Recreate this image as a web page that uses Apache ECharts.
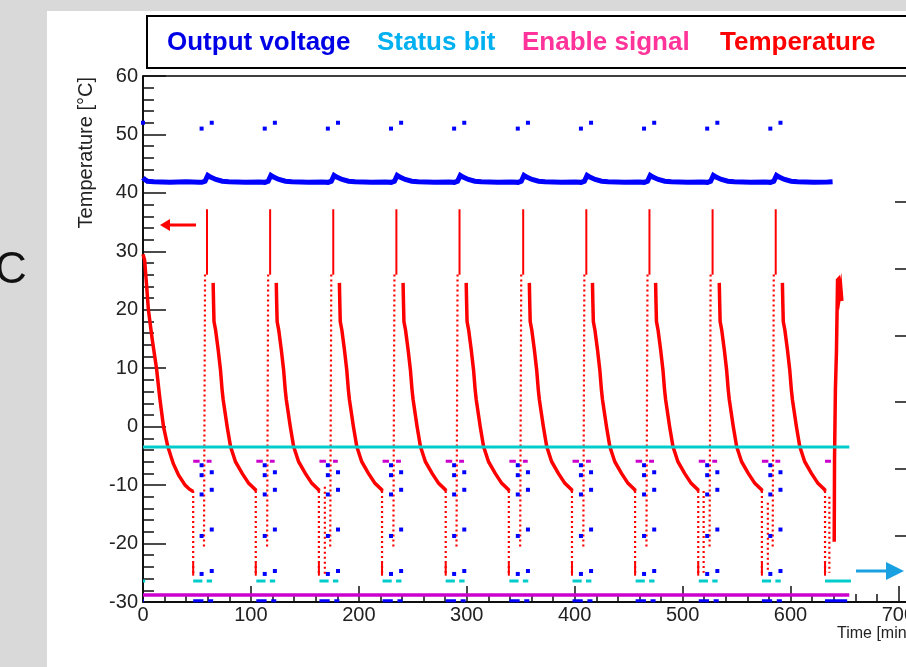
<!DOCTYPE html>
<html>
<head>
<meta charset="utf-8">
<script src="https://cdn.jsdelivr.net/npm/echarts@6/dist/echarts.min.js"></script>
<style>
html, body { margin: 0; padding: 0; background: #d9d9d9; }
#panel { position: absolute; left: 47px; top: 11px; right: 0; bottom: 0; background: #fff; }
#chart { position: absolute; left: 0; top: 0; width: 906px; height: 667px; }
</style>
</head>
<body>
<div id="panel"></div>
<div id="chart"></div>
<script>
// times in minutes, values in the left axis units (°C scale)
const spikes = [59.5, 118, 176.5, 235, 293.5, 352.5, 411, 469.5, 528, 586.5];
const decayStarts = [65, 123.5, 182, 241, 299.5, 358, 416.5, 475, 534, 592.5];
const decayEnds = [46.5, 104.5, 163, 221.5, 280.5, 339, 397.5, 456, 514.5, 573.5, 632];

const firstDecay = [[0, 29.5], [1.5, 28.5], [3, 25], [5, 20], [8.5, 15], [12.5, 10], [15.5, 5],
    [19, 0], [23, -3.4], [28, -6.3], [33, -8.3], [39, -10], [43, -10.7]];
const decayShape = [[0, 24.6], [0.4, 21], [0.8, 18], [2.3, 16.5], [4.7, 13.1], [6.8, 9.7], [8.3, 6.3],
    [9.3, 4.6], [13, 0], [16.1, -3.4], [20.7, -6], [26.9, -8], [33, -9.7], [39.2, -10.8]];
const finalRise = [[640.5, -19.7], [640.8, -5.7], [641.6, 6.3], [642.6, 13], [643.6, 25.1],
    [644.6, 25.3], [645.6, 22.6], [646.6, 23.8], [647.6, 21.5]];
const extraDotted = [[168.5, -10.3, -25.7], [519.5, -11, -25], [579, -13, -25], [636, -12, -25]];

const voltageStart = [[0, 42.6], [1.5, 42.3], [4, 42.0], [10, 41.9], [25, 41.8], [40, 41.9], [52, 41.8]];
// bump around each spike, as [minutes from spike, value]
const voltageBump = [[-5, 41.8], [-2, 42.0], [0.5, 43.0], [3, 42.7], [8, 42.3], [14, 42.0], [20, 41.9], [35, 41.8], [48, 41.85]];
const voltageEnd = [[639, 41.9]];

const highDots = [[-5.2, 51.0], [4.2, 52.0]];
const lowDotsLeft = [-6.6, -8.3, -11.6, -18.7, -25.2];
const lowDotsRight = [-7.8, -10.8, -17.6, -24.7];

const statusLevel = -3.5, statusLow = -26.4;
const enableLevel = -28.8, enableHigh = -5.9;
const voltageLow = -29.8;
const lineEnd = 654.5;
const statusSegs = [[-13, -4.5], [-0.5, 4.5]];
const enableSegs = [[-13, -7], [-0.5, 4]];
const voltSegs = [[-13, -3.5], [0.8, 5.5]];

const rightTicks = [1, 2, 3, 4, 5, 6];

const legendItems = [
    {text: 'Output voltage', color: '#0000e6', x: 167},
    {text: 'Status bit', color: '#00b0f0', x: 377},
    {text: 'Enable signal', color: '#ff3399', x: 522},
    {text: 'Temperature', color: '#ff0000', x: 720},
];

const RED = '#ff0000', BLUE = '#0000ff', CYAN = '#00cccc', MAGENTA = '#cc00cc';
const FONT = 'Liberation Sans, Arial, sans-serif';

function polyLines(name, color, width, type, list, z) {
    return {
        type: 'lines',
        name,
        coordinateSystem: 'cartesian2d',
        polyline: true,
        silent: true,
        z,
        lineStyle: {color, width, type, opacity: 1, curveness: 0},
        data: list.map(c => ({coords: c})),
    };
}

// temperature
const redCurves = [firstDecay.concat([[decayEnds[0], -11.1]])];
decayStarts.forEach((t0, i) => {
    redCurves.push(decayShape.map(([dt, v]) => [t0 + dt, v]).concat([[decayEnds[i + 1], -11]]));
});
redCurves.push(finalRise);
const redDotted = [];
const redThin = [];
decayEnds.forEach(e => {
    redDotted.push([[e, -11], [e, -25.5]]);
    redThin.push([[e, -23.3], [e, -25.5]]);
});
spikes.forEach(s => {
    redDotted.push([[s - 3, -20.5], [s - 2, 26.5]]);
    redThin.push([[s - 0.2, 26], [s - 0.2, 37.2]]);
});
extraDotted.forEach(([t, a, b]) => redDotted.push([[t, a], [t, b]]));

// output voltage
let voltage = voltageStart.slice();
spikes.forEach(s => { voltage = voltage.concat(voltageBump.map(([dt, v]) => [s + dt, v])); });
voltage = voltage.concat(voltageEnd);
const blueDots = [[0, 52]];
const blueBottom = [[[0, voltageLow], [0.8, voltageLow]], [[632, voltageLow], [652.5, voltageLow]]];
spikes.forEach(s => {
    highDots.forEach(([dt, v]) => blueDots.push([s + dt, v]));
    lowDotsLeft.forEach(v => blueDots.push([s - 5.2, v]));
    lowDotsRight.forEach(v => blueDots.push([s + 4.2, v]));
    voltSegs.forEach(([a, b]) => blueBottom.push([[s + a, voltageLow], [s + b, voltageLow]]));
});

// status bit and enable signal
const statusLines = [[[0, statusLevel], [lineEnd, statusLevel]], [[0, statusLow], [2, statusLow]], [[632, statusLow], [656, statusLow]]];
const enableShort = [[[632, enableHigh], [637.5, enableHigh]]];
spikes.forEach(s => {
    statusSegs.forEach(([a, b]) => statusLines.push([[s + a, statusLow], [s + b, statusLow]]));
    enableSegs.forEach(([a, b]) => enableShort.push([[s + a, enableHigh], [s + b, enableHigh]]));
});

const chart = echarts.init(document.getElementById('chart'), null, {renderer: 'canvas'});

const tickStyle = {color: '#111', width: 1.5};
chart.setOption({
    animation: false,
    backgroundColor: 'transparent',
    grid: {
        left: 143, top: 76, width: 777, height: 526,
        containLabel: false, outerBoundsMode: 'none',
        show: true, borderColor: '#000', borderWidth: 1.5, backgroundColor: 'transparent',
    },
    xAxis: {
        type: 'value', min: 0, max: 720, interval: 100,
        axisLine: {show: true, onZero: false, lineStyle: {color: '#000', width: 1.5}},
        axisTick: {show: true, inside: true, length: 16, lineStyle: tickStyle},
        minorTick: {show: true, splitNumber: 5, length: 8, lineStyle: tickStyle},
        splitLine: {show: false},
        axisLabel: {fontSize: 20, color: '#222', margin: 3, fontFamily: FONT,
            formatter: v => (v % 100 === 0 ? String(v) : '')},
    },
    yAxis: [{
        type: 'value', min: -30, max: 60, interval: 10,
        axisLine: {show: true, onZero: false, lineStyle: {color: '#000', width: 1.5}},
        axisTick: {show: true, inside: true, length: 23, lineStyle: tickStyle},
        minorTick: {show: true, splitNumber: 5, length: 11, lineStyle: tickStyle},
        splitLine: {show: false},
        axisLabel: {fontSize: 20, color: '#222', margin: 5, fontFamily: FONT},
    }, {
        type: 'value', position: 'right', min: 0, max: 7.89, interval: 1,
        axisLine: {show: true, onZero: false, lineStyle: {color: '#000', width: 1.5}},
        axisTick: {show: true, inside: true, length: 25, lineStyle: tickStyle, customValues: rightTicks},
        axisLabel: {show: false},
        splitLine: {show: false},
    }],
    series: [
        polyLines('Enable signal', MAGENTA, 3.5, 'solid', [[[0, enableLevel], [lineEnd, enableLevel]]], 2),
        polyLines('Enable signal', MAGENTA, 3, 'solid', enableShort, 2),
        polyLines('Output voltage', BLUE, 3, 'solid', blueBottom, 3),
        polyLines('Temperature', RED, 2.2, [2, 3], redDotted, 3),
        polyLines('Temperature', RED, 2, 'solid', redThin, 3),
        polyLines('Temperature', RED, 3.5, 'solid', redCurves, 4),
        polyLines('Status bit', CYAN, 3, 'solid', statusLines, 5),
        polyLines('Output voltage', BLUE, 5, 'solid', [voltage], 5),
        {
            type: 'scatter', name: 'Output voltage', symbol: 'rect', symbolSize: 4, silent: true, z: 6,
            itemStyle: {color: BLUE, opacity: 1}, data: blueDots,
        },
    ],
    graphic: [
        {type: 'rect', shape: {x: 147, y: 16, width: 800, height: 52}, style: {fill: '#fff', stroke: '#000', lineWidth: 2}},
        ...legendItems.map(it => ({
            type: 'text', x: it.x, y: 43,
            style: {text: it.text, fill: it.color, font: `bold 26px ${FONT}`, textAlign: 'left', textVerticalAlign: 'middle'},
        })),
        {type: 'text', x: 86, y: 77, rotation: Math.PI / 2,
            style: {text: 'Temperature [°C]', fill: '#222', font: `20px ${FONT}`, textAlign: 'right', textVerticalAlign: 'middle'}},
        {type: 'text', x: 837, y: 634,
            style: {text: 'Time [min]', fill: '#222', font: `16px ${FONT}`, textAlign: 'left', textVerticalAlign: 'middle'}},
        {type: 'text', x: -5, y: 271,
            style: {text: 'C', fill: '#111', font: `44px ${FONT}`, textAlign: 'left', textVerticalAlign: 'middle'}},
        // arrows pointing at the two axes
        {type: 'line', shape: {x1: 168, y1: 225, x2: 196, y2: 225}, style: {stroke: RED, lineWidth: 3}},
        {type: 'polygon', shape: {points: [[160, 225], [170, 219], [170, 231]]}, style: {fill: RED}},
        {type: 'line', shape: {x1: 856, y1: 571, x2: 888, y2: 571}, style: {stroke: '#18a0e0', lineWidth: 3}},
        {type: 'polygon', shape: {points: [[904, 571], [886, 562], [886, 580]]}, style: {fill: '#18a0e0'}},
    ],
});
</script>
</body>
</html>
